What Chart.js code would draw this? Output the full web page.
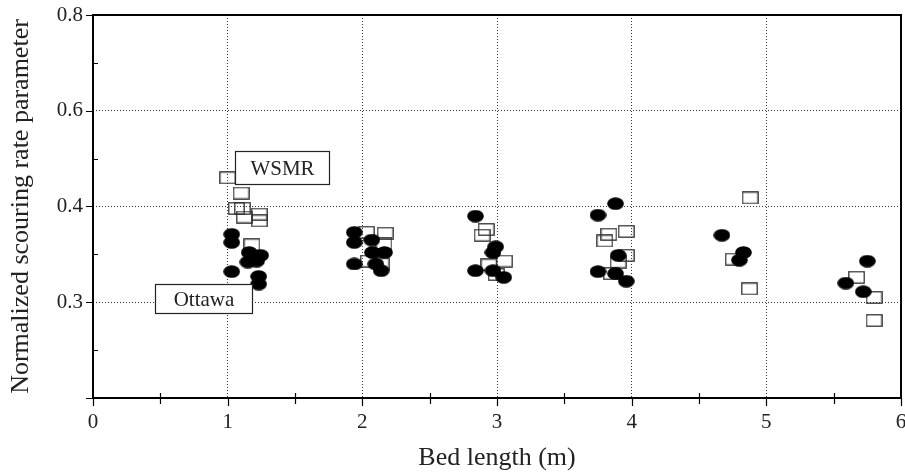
<!DOCTYPE html>
<html>
<head>
<meta charset="utf-8">
<script src="https://cdn.jsdelivr.net/npm/chart.js@4.4.1/dist/chart.umd.min.js"></script>
<style>
  html, body { margin: 0; padding: 0; background: #fff; overflow: hidden; }
  #wrap { width: 905px; height: 474px; }
</style>
</head>
<body>
<div id="wrap"><canvas id="scourChart"></canvas></div>
<script>
// ----- data -----
const xTickValues = [0, 1, 2, 3, 4, 5, 6];
// the printed axis is not evenly labelled: equal steps carry 0.3, 0.4, 0.6, 0.8
const yTickValues = [0.2, 0.3, 0.4, 0.5, 0.6];
const yTickLabels = ['', '0.3', '0.4', '0.6', '0.8'];

// WSMR (open squares)
const wsmrX = [1.00, 1.10, 1.065, 1.11, 1.125, 1.235, 1.235, 1.18,
               2.03, 2.17, 2.16, 2.045, 2.14,
               2.92, 2.89, 2.94, 3.055, 2.995,
               3.83, 3.80, 3.96, 3.96, 3.90, 3.85,
               4.88, 4.755, 4.875,
               5.67, 5.80, 5.80];
const wsmrY = [0.430, 0.414, 0.398, 0.398, 0.389, 0.392, 0.385, 0.360,
               0.373, 0.372, 0.361, 0.343, 0.340,
               0.376, 0.370, 0.339, 0.343, 0.329,
               0.371, 0.364, 0.374, 0.349, 0.342, 0.330,
               0.409, 0.345, 0.314,
               0.326, 0.305, 0.281];

// Ottawa (filled ellipses)
const ottawaX = [1.03, 1.03, 1.16, 1.245, 1.15, 1.215, 1.03, 1.23, 1.23,
                 1.94, 1.94, 2.07, 2.075, 2.165, 1.94, 2.10, 2.14,
                 2.84, 2.99, 2.97, 2.84, 2.97, 3.05,
                 3.88, 3.75, 3.90, 3.75, 3.88, 3.96,
                 4.67, 4.83, 4.80,
                 5.75, 5.59, 5.72];
const ottawaY = [0.371, 0.3625, 0.352, 0.349, 0.342, 0.343, 0.332, 0.327, 0.319,
                 0.373, 0.3625, 0.365, 0.352, 0.352, 0.340, 0.340, 0.333,
                 0.390, 0.358, 0.352, 0.333, 0.333, 0.326,
                 0.403, 0.391, 0.349, 0.332, 0.330, 0.322,
                 0.370, 0.352, 0.344,
                 0.343, 0.320, 0.311];

// boxed labels, in axis units
const notes = [
  { text: 'WSMR',   x0: 1.058, x1: 1.756, y0: 0.424,  y1: 0.4583 },
  { text: 'Ottawa', x0: 0.457, x1: 1.177, y0: 0.2885, y1: 0.3188 }
];

const SERIF = '"Liberation Serif", "Times New Roman", serif';

// ----- marker images -----
function ellipseMarker() {
  const c = document.createElement('canvas');
  c.width = 17; c.height = 13;
  const g = c.getContext('2d');
  g.fillStyle = '#000';
  g.beginPath();
  g.ellipse(8.5, 6.5, 8.3, 6.3, 0, 0, Math.PI * 2);
  g.fill();
  return c;
}
function boxMarker() {
  const c = document.createElement('canvas');
  c.width = 17; c.height = 13;
  const g = c.getContext('2d');
  g.strokeStyle = '#333';
  g.lineWidth = 1.3;
  g.strokeRect(0.8, 0.8, 15.4, 11.4);
  return c;
}

const toPoints = (xs, ys) => xs.map((v, i) => ({ x: v, y: ys[i] }));

// frame, minor/major tick marks and the boxed labels
const framePlugin = {
  id: 'framePlugin',
  afterDatasetsDraw(chart) {
    const { ctx, chartArea: a, scales: { x, y } } = chart;
    ctx.save();

    ctx.strokeStyle = '#000';
    ctx.lineWidth = 1.2;
    ctx.beginPath();
    xTickValues.forEach(v => {
      const px = Math.round(x.getPixelForValue(v)) + 0.5;
      ctx.moveTo(px, a.bottom); ctx.lineTo(px, a.bottom + 8);
      if (v < 6) {
        const pm = Math.round(x.getPixelForValue(v + 0.5)) + 0.5;
        ctx.moveTo(pm, a.bottom - 5); ctx.lineTo(pm, a.bottom + 6);
      }
    });
    yTickValues.forEach(v => {
      const py = Math.round(y.getPixelForValue(v)) + 0.5;
      ctx.moveTo(a.left - 7, py); ctx.lineTo(a.left, py);
      if (v < 0.6) {
        const pm = Math.round(y.getPixelForValue(v + 0.05)) + 0.5;
        ctx.moveTo(a.left - 1, pm); ctx.lineTo(a.left + 5, pm);
      }
    });
    ctx.stroke();

    ctx.lineWidth = 2;
    ctx.strokeRect(a.left, a.top, a.right - a.left, a.bottom - a.top);

    ctx.font = '21px ' + SERIF;
    ctx.textAlign = 'center';
    ctx.textBaseline = 'middle';
    notes.forEach(n => {
      const l = Math.round(x.getPixelForValue(n.x0)) + 0.5;
      const r = Math.round(x.getPixelForValue(n.x1)) + 0.5;
      const t = Math.round(y.getPixelForValue(n.y1)) + 0.5;
      const b = Math.round(y.getPixelForValue(n.y0)) + 0.5;
      ctx.fillStyle = '#fff';
      ctx.fillRect(l, t, r - l, b - t);
      ctx.strokeStyle = '#222';
      ctx.lineWidth = 1.2;
      ctx.strokeRect(l, t, r - l, b - t);
      ctx.fillStyle = '#222';
      ctx.fillText(n.text, (l + r) / 2, (t + b) / 2 + 1);
    });
    ctx.restore();
  }
};

const scourCtx = document.getElementById('scourChart').getContext('2d');
new Chart(scourCtx, {
  type: 'scatter',
  data: {
    datasets: [
      {
        label: 'Ottawa',
        data: toPoints(ottawaX, ottawaY),
        pointStyle: ellipseMarker(),
        pointRadius: 8
      },
      {
        label: 'WSMR',
        data: toPoints(wsmrX, wsmrY),
        pointStyle: boxMarker(),
        pointRadius: 8
      }
    ]
  },
  options: {
    responsive: true,
    maintainAspectRatio: false,
    animation: false,
    layout: { autoPadding: false, padding: { top: 15, right: 4, left: 0, bottom: 0 } },
    plugins: {
      legend: { display: false },
      tooltip: { enabled: false }
    },
    scales: {
      x: {
        type: 'linear',
        min: 0, max: 6,
        afterBuildTicks: s => { s.ticks = xTickValues.map(v => ({ value: v })); },
        afterFit: s => { s.height = 76; s.paddingLeft = 0; s.paddingRight = 0; },
        grid: {
          drawTicks: false,
          color: c => (c.tick && (c.tick.value === 0 || c.tick.value === 6)) ? 'rgba(0,0,0,0)' : '#333',
          lineWidth: 1
        },
        border: { display: false, dash: [1, 2] },
        ticks: {
          padding: 12,
          color: '#222',
          maxRotation: 0,
          font: { family: SERIF, size: 21 }
        },
        title: {
          display: true,
          text: 'Bed length (m)',
          color: '#222',
          padding: { top: 0, bottom: 0 },
          font: { family: SERIF, size: 26 }
        }
      },
      y: {
        type: 'linear',
        min: 0.2, max: 0.6,
        afterBuildTicks: s => { s.ticks = yTickValues.map(v => ({ value: v })); },
        afterFit: s => { s.width = 93; s.paddingTop = 0; s.paddingBottom = 0; },
        grid: {
          drawTicks: false,
          color: c => (c.tick && (c.tick.value === 0.2 || c.tick.value === 0.6)) ? 'rgba(0,0,0,0)' : '#333',
          lineWidth: 1
        },
        border: { display: false, dash: [1, 2] },
        ticks: {
          padding: 10,
          color: '#222',
          font: { family: SERIF, size: 21 },
          callback: v => {
            const i = yTickValues.findIndex(t => Math.abs(t - v) < 1e-9);
            return i >= 0 ? yTickLabels[i] : '';
          }
        },
        title: {
          display: true,
          text: 'Normalized scouring rate parameter',
          color: '#222',
          padding: { top: 6, bottom: 0 },
          font: { family: SERIF, size: 26 }
        }
      }
    }
  },
  plugins: [framePlugin]
});
</script>
</body>
</html>
